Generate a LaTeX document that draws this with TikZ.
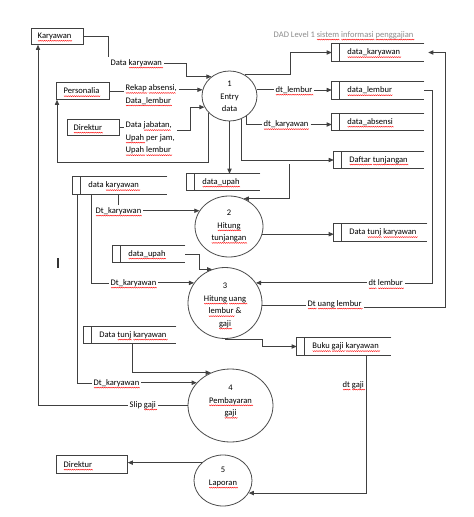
\documentclass[tikz,border=0pt]{standalone}
\usepackage{fontspec}
\setmainfont{Carlito}
\usetikzlibrary{shapes.geometric,arrows.meta,calc}
\newbox\sqbox \newdimen\sqx \newcount\sqn
\newcommand\sq[1]{\setbox\sqbox\hbox{#1}\leavevmode\rlap{\smash{\begin{pgfpicture}\pgfsetbaseline{0pt}%
  \pgfsetlinewidth{0.3pt}\pgfsetstrokecolor{red}%
  \pgfpathmoveto{\pgfpoint{0pt}{-1.4pt}}\sqx=0pt \sqn=0
  \loop\ifdim\sqx<\wd\sqbox \advance\sqx by 0.8pt \advance\sqn by 1
    \ifodd\sqn \pgfpathlineto{\pgfpoint{\sqx}{-2.1pt}}\else\pgfpathlineto{\pgfpoint{\sqx}{-1.4pt}}\fi
  \repeat
  \pgfusepath{stroke}\end{pgfpicture}}}\box\sqbox}
\newcommand\dstore[6]{%
  \node[store, minimum width={#4*0.75pt}, minimum height={#5*0.75pt}] (#1) at ({#2+#4/2},{#3+#5/2}) {};
  \draw[line] (#1.north east) -- (#1.north west) -- (#1.south west) -- (#1.south east);
  \draw[line] ($(#1.north west)+(8,0)$) -- ($(#1.south west)+(8,0)$);
  \node[lbl, anchor=west] (#1t) at ($(#1.west)+(13.5,0)$) {#6};}
\begin{document}
\begin{tikzpicture}[x=0.75pt,y=-0.75pt,
  font=\fontsize{6.4}{9.4}\selectfont,
  line/.style={draw=black!75, line width=0.6pt},
  flow/.style={line, -{Triangle[length=3.8pt,width=3.2pt]}},
  ebox/.style={draw=black!75, line width=0.6pt, rectangle, anchor=north west, inner sep=0},
  store/.style={inner sep=0, rectangle},
  proc/.style={ellipse, draw=black!70, line width=0.6pt, inner sep=0},
  lbl/.style={inner sep=1.5pt, align=left},
  ptxt/.style={inner sep=0pt, align=center}]
\fill[white] (0,0) rectangle (474,517);
\useasboundingbox (0,0) rectangle (474,517);

% title
\node[lbl, anchor=west, text=black!45] (title) at (271.5,35) {DAD Level 1 \sq{sistem} \sq{informasi} \sq{penggajian}};

% external entities
\node[ebox, minimum width={52*0.75pt}, minimum height={16*0.75pt}] (kar) at (31,28) {};
\node[lbl, anchor=west] (kart) at ($(kar.west)+(4.5,0)$) {\sq{Karyawan}};
\node[ebox, minimum width={53*0.75pt}, minimum height={17*0.75pt}] (pers) at (56,82) {};
\node[lbl, anchor=west] (perst) at ($(pers.west)+(5.5,0)$) {\sq{Personalia}};
\node[ebox, minimum width={52*0.75pt}, minimum height={16*0.75pt}] (dir1) at (67,119) {};
\node[lbl, anchor=west] (dir1t) at ($(dir1.west)+(4.5,0)$) {\sq{Direktur}};
\node[ebox, minimum width={71*0.75pt}, minimum height={18*0.75pt}] (dir2) at (56,455) {};
\node[lbl, anchor=west] (dir2t) at ($(dir2.west)+(5.5,0)$) {\sq{Direktur}};

% data stores
\dstore{dkar}{332}{44}{92}{17}{\sq{data\_karyawan}}
\dstore{dlem}{332}{82}{92}{17}{\sq{data\_lembur}}
\dstore{dabs}{332}{114}{92}{16}{\sq{data\_absensi}}
\dstore{dtun}{334}{152}{90}{16}{\sq{Daftar} \sq{tunjangan}}
\dstore{dupah1}{187}{174}{73}{16}{\sq{data\_upah}}
\dstore{dkar2}{73}{177}{94}{17}{data \sq{karyawan}}
\dstore{dtk}{334}{224}{93}{17}{Data \sq{tunj} \sq{karyawan}}
\dstore{dupah2}{113}{246}{72}{16}{\sq{data\_upah}}
\dstore{dtk2}{84}{327}{92}{16}{Data \sq{tunj} \sq{karyawan}}
\dstore{buku}{297}{338}{94}{17}{\sq{Buku} \sq{gaji} \sq{karyawan}}

% processes
\node[proc, minimum width={55*0.75pt}, minimum height={50*0.75pt}] (c1) at (229.5,96) {};
\node[ptxt] (c1t) at (229.5,96.5) {1\\Entry\\data};
\node[proc, minimum width={68*0.75pt}, minimum height={61*0.75pt}] (c2) at (229,226.5) {};
\node[ptxt] (c2t) at (229,226) {2\\\sq{Hitung}\\\sq{tunjangan}};
\node[proc, minimum width={74*0.75pt}, minimum height={71*0.75pt}] (c3) at (225,303) {};
\node[ptxt] (c3t) at (225,305.5) {3\\\sq{Hitung} \sq{uang}\\\sq{lembur} \&\\\sq{gaji}};
\node[proc, minimum width={85*0.75pt}, minimum height={73*0.75pt}] (c4) at (230.5,405.5) {};
\node[ptxt] (c4t) at (230.5,401) {4\\\sq{Pembayaran}\\\sq{gaji}};
\node[proc, minimum width={58*0.75pt}, minimum height={51*0.75pt}] (c5) at (223,480.5) {};
\node[ptxt] (c5t) at (223,477) {5\\\sq{Laporan}};

% flow labels
\node[lbl, anchor=west] (tdkar) at (108.5,63) {Data \sq{karyawan}};
\node[lbl, anchor=west] (trk) at (123.5,94.5) {\sq{Rekap} \sq{absensi},\\\sq{Data\_lembur}};
\node[lbl, anchor=west] (tdj) at (123.5,138) {Data \sq{jabatan},\\\sq{Upah} per jam,\\\sq{Upah} \sq{lembur}};
\node[lbl, anchor=west] (tdl) at (273.5,90) {\sq{dt\_lembur}};
\node[lbl, anchor=west] (tdk) at (261.5,124.5) {\sq{dt\_karyawan}};
\node[lbl, anchor=west] (tdk2) at (93.5,211) {\sq{Dt\_karyawan}};
\node[lbl, anchor=west] (tdk3) at (108.5,283) {\sq{Dt\_karyawan}};
\node[lbl, anchor=west] (tdk4) at (91.5,383) {\sq{Dt\_karyawan}};
\node[lbl, anchor=west] (tdl2) at (366.5,283) {\sq{dt} \sq{lembur}};
\node[lbl, anchor=west] (tdul) at (305.5,304) {\sq{Dt} \sq{uang} \sq{lembur}};
\node[lbl, anchor=west] (tsg) at (127.5,405) {Slip \sq{gaji}};
\node[lbl, anchor=west] (tdg) at (340.5,385) {\sq{dt} \sq{gaji}};

% flows into process 1
\draw[line] (kar.east) -| (tdkar.north west);
\draw[flow] (tdkar.east) -| ($(c1.133)+(-25,0)$) -- (c1.133);
\draw[line] (pers.east) -- (pers.east -| trk.west);
\draw[flow] (c1.167 -| trk.east) -- (c1.167);
\draw[line] (dir1.east) -- (dir1.east -| tdj.west);
\draw[flow] ($(tdj.east)+(0,-8)$) -| ($(c1.204)+(-14,0)$) -- (c1.204);
% flows out of process 1
\draw[flow] (c1.219) -- (c1.219 |- 0,162) -| ($(pers.south west)+(1,0)$);
\draw[flow] (c1.55) -| ($(dkar.west)+(-41,0)$) -- (dkar.west);
\draw[line] (c1.13) -- (c1.13 -| tdl.west);
\draw[flow] (tdl.east) -- (tdl.east -| dlem.west);
\draw[line] (c1.310) |- (tdk.west);
\draw[flow] (tdk.east) -- (tdk.east -| dabs.west);
\draw[flow] (c1.297) |- (dtun.west);
\draw[flow] (c1.south) -- (c1.south |- dupah1.north);

% process 2
\draw[flow] ($(dtun.west)+(-44,4)$) |- (c2.62);
\draw[line] (tdk2.north) -- (tdk2.north |- dkar2.south);
\draw[flow] (c2.152 -| tdk2.east) -- (c2.152);
\draw[flow] (c2.347) -- (c2.347 -| dtk.west);

% process 3
\draw[flow] (dupah2.east) -| ($(c3.111)+(-13,0)$) -- (c3.111);
\draw[line] ($(dkar2.south west)+(19,0)$) |- (tdk3.west);
\draw[flow] (c3.147 -| tdk3.east) -- (c3.147);
\draw[line] (dlem.east) -- ++(8,0) |- (tdl2.east);
\draw[flow] (c3.33 -| tdl2.west) -- (c3.33);
\draw[line] (c3.357) -- (c3.357 -| tdul.west);
\draw[flow] ($(tdul.east)+(0,3)$) -| ($(dkar.east)+(21,0)$) -- ($(dkar.east)+(4,0)$);
\draw[flow] (c3.south) -| ($(buku.west)+(-34,0)$) -- (buku.west);

% process 4
\draw[flow] ($(dtk2.south west)+(49,0)$) |- (c4.121);
\draw[line] ($(dkar2.south west)+(5,0)$) |- (tdk4.west);
\draw[flow] (c4.146 -| tdk4.east) -- (c4.146);
\draw[line] (c4.180) -- (c4.180 -| tsg.east);
\draw[flow] (tsg.west) -| ($(kar.south west)+(7,0)$);

% process 5
\draw[flow] ($(buku.south west)+(70,0)$) |- (c5.334);
\draw[flow] (c5.140) -- (c5.140 -| dir2.east);

% stray cursor mark
\draw[black!80, line width=1.3pt] (58,258) -- (58,268);
\end{tikzpicture}
\end{document}
